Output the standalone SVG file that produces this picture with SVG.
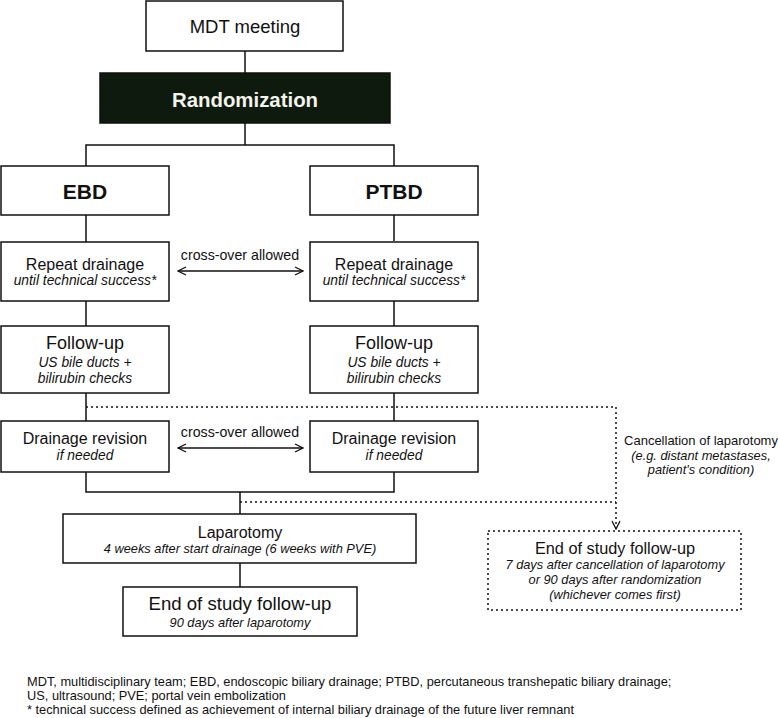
<svg xmlns="http://www.w3.org/2000/svg" width="778" height="718" viewBox="0 0 778 718">
<style>
text{font-family:"Liberation Sans",Arial,sans-serif;fill:#111;text-anchor:middle}
.box{fill:#fff;stroke:#111;stroke-width:1.5}
.ln{fill:none;stroke:#111;stroke-width:1.5}
.dot{fill:none;stroke:#111;stroke-width:1.5;stroke-dasharray:2 3}
.t16{font-size:16px}
.t18{font-size:18px}
.it{font-size:13.8px;font-style:italic}
.it2{font-size:12.8px;font-style:italic}
.sm{font-size:13px}
.xo{font-size:14.2px}
.bold{font-size:21px;font-weight:bold}
.fn{font-size:12.8px;text-anchor:start}
</style>
<defs>
<marker id="ah" viewBox="0 0 10 10" refX="9" refY="5" markerWidth="10" markerHeight="10" markerUnits="userSpaceOnUse" orient="auto-start-reverse">
<path d="M1,1 L9,5 L1,9" fill="none" stroke="#111" stroke-width="1.3"/>
</marker>
</defs>
<rect width="778" height="718" fill="#fff"/>
<g id="connectors">
<path class="ln" d="M245,51V73"/>
<path class="ln" d="M245,123V145M86,166V145H394V166"/>
<path class="ln" d="M86,215V242M394,215V241"/>
<path class="ln" d="M86,301V326M394,300V326"/>
<path class="ln" d="M86,393V421M394,393V421"/>
<path class="ln" d="M86,472V492H394V472M240,492V514"/>
<path class="ln" d="M240,563V587"/>
<path class="ln" d="M178,271H303" marker-start="url(#ah)" marker-end="url(#ah)"/>
<path class="ln" d="M178,448H303" marker-start="url(#ah)" marker-end="url(#ah)"/>
<path class="dot" d="M86,407H616V529" marker-end="url(#ah)"/>
<path class="dot" d="M240,502H616"/>
<text class="xo" x="240" y="260">cross-over allowed</text>
<text class="xo" x="240" y="437">cross-over allowed</text>
<text class="sm" x="701" y="445">Cancellation of laparotomy</text>
<text class="it2" x="701" y="460">(e.g. distant metastases,</text>
<text class="it2" x="701" y="474">patient's condition)</text>
</g>
<g id="mdt">
<rect class="box" x="146" y="1" width="197" height="50"/>
<text x="245" y="33" style="font-size:18.5px">MDT meeting</text>
</g>
<g id="randomization">
<rect x="100" y="73" width="290" height="50" fill="#0d1a0d" stroke="#111" stroke-width="1.5"/>
<text x="245" y="107" style="font-size:20.4px;font-weight:bold;fill:#f4f4ec">Randomization</text>
</g>
<g id="ebd">
<rect class="box" x="1" y="166" width="168" height="49"/>
<text class="bold" x="85" y="199">EBD</text>
</g>
<g id="ptbd">
<rect class="box" x="310" y="166" width="168" height="49"/>
<text class="bold" x="394" y="199">PTBD</text>
</g>
<g id="repeat-ebd">
<rect class="box" x="1" y="242" width="168" height="59"/>
<text class="t16" x="85" y="270">Repeat drainage</text>
<text class="it" x="85" y="285">until technical success*</text>
</g>
<g id="repeat-ptbd">
<rect class="box" x="310" y="242" width="168" height="59"/>
<text class="t16" x="394" y="270">Repeat drainage</text>
<text class="it" x="394" y="285">until technical success*</text>
</g>
<g id="followup-ebd">
<rect class="box" x="1" y="326" width="168" height="67"/>
<text class="t18" x="85" y="349">Follow-up</text>
<text class="it" x="85" y="367">US bile ducts +</text>
<text class="it" x="85" y="383">bilirubin checks</text>
</g>
<g id="followup-ptbd">
<rect class="box" x="310" y="326" width="168" height="67"/>
<text class="t18" x="394" y="349">Follow-up</text>
<text class="it" x="394" y="367">US bile ducts +</text>
<text class="it" x="394" y="383">bilirubin checks</text>
</g>
<g id="revision-ebd">
<rect class="box" x="1" y="421" width="168" height="51"/>
<text class="t16" x="85" y="444">Drainage revision</text>
<text class="it" x="85" y="460">if needed</text>
</g>
<g id="revision-ptbd">
<rect class="box" x="310" y="421" width="168" height="51"/>
<text class="t16" x="394" y="444">Drainage revision</text>
<text class="it" x="394" y="460">if needed</text>
</g>
<g id="laparotomy">
<rect class="box" x="63" y="514" width="353" height="49"/>
<text class="t16" x="240" y="538">Laparotomy</text>
<text class="it2" x="240" y="553">4 weeks after start drainage (6 weeks with PVE)</text>
</g>
<g id="end-study">
<rect class="box" x="123" y="587" width="234" height="49"/>
<text x="240" y="610" style="font-size:18.6px">End of study follow-up</text>
<text class="it2" x="240" y="627">90 days after laparotomy</text>
</g>
<g id="end-study-cancel">
<rect class="dot" x="488" y="531" width="253" height="79"/>
<text x="615" y="554" style="font-size:16.3px">End of study follow-up</text>
<text class="it2" x="615" y="569">7 days after cancellation of laparotomy</text>
<text class="it2" x="615" y="584">or 90 days after randomization</text>
<text class="it2" x="615" y="599">(whichever comes first)</text>
</g>
<g id="footnote">
<text class="fn" x="27" y="686">MDT, multidisciplinary team; EBD, endoscopic biliary drainage; PTBD, percutaneous transhepatic biliary drainage;</text>
<text class="fn" x="27" y="700">US, ultrasound; PVE; portal vein embolization</text>
<text class="fn" x="27" y="714">* technical success defined as achievement of internal biliary drainage of the future liver remnant</text>
</g>
</svg>
